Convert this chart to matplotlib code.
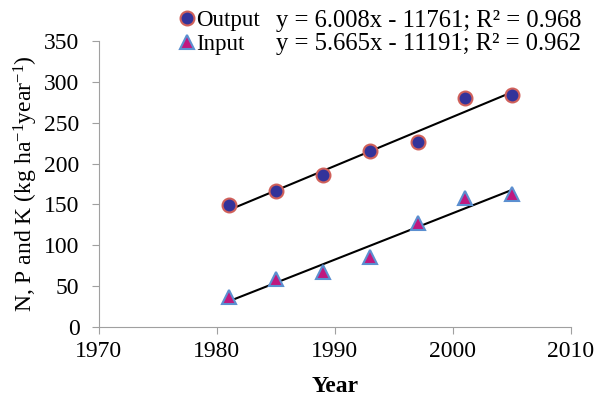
import matplotlib
matplotlib.use("Agg")
import matplotlib.pyplot as plt
import numpy as np
from matplotlib.lines import Line2D

years = [1981, 1985, 1989, 1993, 1997, 2001, 2005]
output_vals = [149, 166, 186, 215, 226, 280, 284]
input_vals = [37, 59, 67, 86, 127, 158, 163]
eq_output = "y = 6.008x - 11761; R² = 0.968"
eq_input = "y = 5.665x - 11191; R² = 0.962"

plt.rcParams['font.family'] = ['Liberation Serif', 'DejaVu Serif']
plt.rcParams['mathtext.fontset'] = 'custom'
plt.rcParams['mathtext.rm'] = 'Liberation Serif'
fig = plt.figure(figsize=(5.96, 4.01), dpi=100)
ax = fig.add_axes([0.166, 0.1845, 0.792, 0.7135])

x = np.array(years, dtype=float)
for vals in (output_vals, input_vals):
    c = np.polyfit(x, vals, 1)
    xs = np.array([x.min(), x.max()])
    ax.plot(xs, np.polyval(c, xs), color='black', lw=1.5, zorder=2)

ax.plot(years, output_vals, 'o', ms=10, mfc='#33339a', mec='#d0605a', mew=1.5, zorder=3)
ax.plot(years, input_vals, '^', ms=10, mfc='#c0187f', mec='#5b8fd0', mew=1.5, zorder=3)

ax.set_xlim(1970, 2010)
ax.set_ylim(0, 350)
ax.set_xticks(range(1970, 2011, 10))
ax.set_yticks(range(0, 351, 50))
for s in ['top', 'right']:
    ax.spines[s].set_visible(False)
for s in ['left', 'bottom']:
    ax.spines[s].set_color('#a0a0a0')
ax.tick_params(colors='#a0a0a0', labelcolor='black', labelsize=17, length=5, direction='out')
ax.tick_params(axis='y', pad=9)
ax.tick_params(axis='x', pad=5)
ax.set_xlabel('Year', fontsize=17, fontweight='bold', labelpad=10)
ax.set_ylabel(r'N, P and K (kg ha$\mathregular{^{-1}}$year$\mathregular{^{-1}}$)', fontsize=17, labelpad=3)

h1 = Line2D([], [], ls='none', marker='o', ms=10, mfc='#33339a', mec='#d0605a', mew=1.5)
h2 = Line2D([], [], ls='none', marker='^', ms=10, mfc='#c0187f', mec='#5b8fd0', mew=1.5)
fig.legend([h1, h2], ['Output', 'Input'], loc='upper left', bbox_to_anchor=(0.275, 1.01),
           frameon=False, fontsize=16.5, handletextpad=0.0, labelspacing=0.12, handlelength=0.8,
           borderaxespad=0.2)
fig.text(0.463, 0.948, eq_output, fontsize=17.7, va='center', ha='left')
fig.text(0.463, 0.891, eq_input, fontsize=17.7, va='center', ha='left')

fig.savefig('out.png', dpi=100)
